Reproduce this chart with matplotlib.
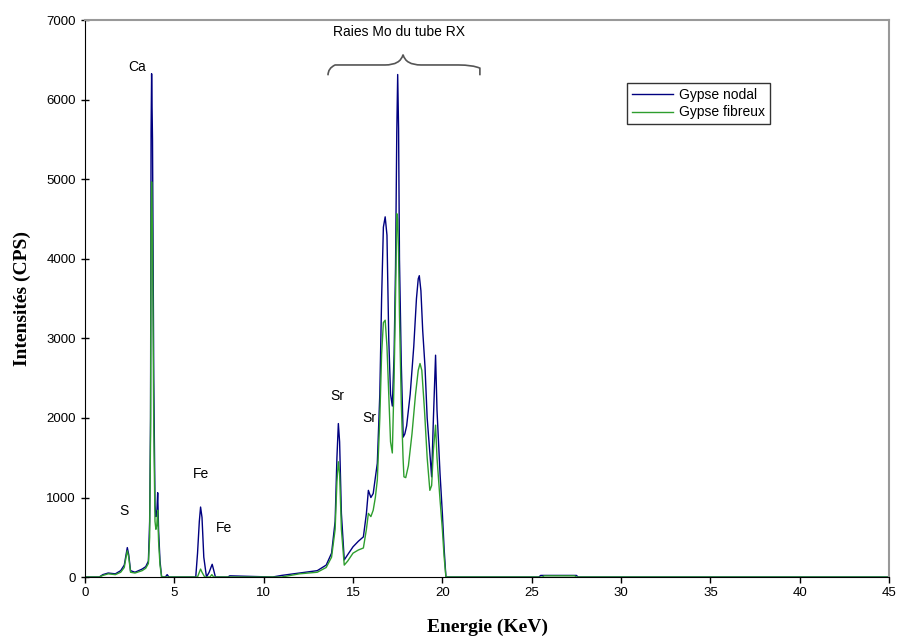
import matplotlib.pyplot as plt
from matplotlib.path import Path
from matplotlib.patches import PathPatch

# Gypse nodal (blue) spectrum: energy (keV) / intensity (CPS)
e_nodal = [0.0, 0.8, 1.0, 1.3, 1.7, 2.0, 2.2, 2.3, 2.37, 2.45, 2.55, 2.8, 3.2, 3.4,
           3.55, 3.62, 3.67, 3.7, 3.73, 3.78, 3.85, 3.92, 3.97, 4.02, 4.07, 4.12, 4.2,
           4.29, 4.5, 4.6, 4.7, 6.2, 6.3, 6.4, 6.47, 6.55, 6.65, 6.8, 6.95, 7.05, 7.12,
           7.2, 7.3, 8.0, 8.1, 10.5, 11.0, 12.0, 13.0, 13.5, 13.8, 14.0, 14.1, 14.18,
           14.25, 14.35, 14.51, 14.7, 15.0, 15.3, 15.58, 15.75, 15.86, 16.0, 16.13,
           16.25, 16.36, 16.5, 16.6, 16.7, 16.8, 16.9, 17.0, 17.1, 17.2, 17.3, 17.38,
           17.45, 17.5, 17.55, 17.6, 17.7, 17.81, 17.9, 18.0, 18.2, 18.4, 18.55, 18.65,
           18.71, 18.8, 18.9, 19.03, 19.15, 19.3, 19.4, 19.5, 19.62, 19.7, 19.87, 20.0,
           20.1, 20.2, 25.4, 25.5, 27.5, 27.6, 45.0]
i_nodal = [0, 0, 30, 50, 40, 80, 150, 280, 370, 280, 80, 60, 100, 130,
           200, 700, 2000, 5600, 6330, 5500, 2500, 900, 760, 800, 1060, 590, 200,
           0, 0, 30, 0, 0, 300, 700, 880, 750, 250, 0, 60, 120, 160,
           90, 0, 0, 15, 0, 20, 50, 80, 150, 300, 700, 1500, 1930,
           1700, 800, 215, 280, 380, 450, 505, 800, 1090, 1000, 1050,
           1250, 1430, 2300, 3500, 4400, 4530, 4300, 3000, 2300, 2150, 2800, 3900,
           5600, 6320, 5640, 4000, 2700, 1760, 1800, 1900, 2300, 2900, 3500, 3750,
           3790, 3600, 3100, 2640, 2000, 1560, 1260, 2000, 2790, 2100, 1300, 800,
           350, 0, 0, 20, 20, 0, 0]

# Gypse fibreux (green) spectrum
e_fibreux = [0.0, 0.8, 1.0, 1.3, 1.7, 2.0, 2.2, 2.3, 2.37, 2.45, 2.55, 2.8, 3.2, 3.4,
             3.55, 3.62, 3.67, 3.7, 3.73, 3.78, 3.85, 3.92, 3.97, 4.02, 4.07, 4.12, 4.2,
             4.29, 6.3, 6.4, 6.47, 6.55, 6.7, 7.0, 7.1, 7.2, 11.0, 12.0, 13.0, 13.5,
             13.8, 14.0, 14.1, 14.18, 14.25, 14.35, 14.51, 14.7, 15.0, 15.3, 15.58,
             15.75, 15.86, 16.0, 16.13, 16.25, 16.36, 16.5, 16.6, 16.7, 16.8, 16.9,
             17.0, 17.1, 17.2, 17.3, 17.4, 17.45, 17.5, 17.55, 17.6, 17.7, 17.8, 17.85,
             17.95, 18.1, 18.3, 18.5, 18.65, 18.75, 18.85, 19.0, 19.15, 19.3, 19.4,
             19.5, 19.62, 19.7, 19.87, 20.0, 20.1, 20.2, 25.6, 25.7, 27.4, 27.5, 45.0]
i_fibreux = [0, 0, 20, 40, 30, 60, 120, 250, 330, 250, 60, 50, 80, 110,
             170, 500, 1800, 4400, 4970, 4300, 1900, 700, 600, 650, 840, 450, 150,
             0, 0, 60, 100, 60, 0, 0, 30, 0, 0, 40, 60, 120,
             250, 600, 1200, 1450, 1300, 600, 150, 200, 300, 340, 365,
             600, 800, 760, 840, 1000, 1220, 2000, 2800, 3200, 3230, 2900,
             2300, 1700, 1560, 2500, 3800, 4570, 4500, 4070, 3300, 2200, 1500, 1260,
             1250, 1400, 1800, 2300, 2600, 2685, 2600, 2100, 1500, 1090, 1150,
             1600, 1910, 1500, 970, 600, 250, 0, 0, 15, 15, 0, 0]

labels = ['S', 'Ca', 'Fe', 'Fe', 'Sr', 'Sr']
label_e = [2.2, 2.9, 6.5, 7.8, 14.1, 15.9]
label_i = [740, 6330, 1205, 530, 2185, 1910]

plt.rcParams['font.family'] = ['Liberation Sans', 'DejaVu Sans']

fig = plt.figure(figsize=(8.99, 6.39), dpi=100)
ax = fig.add_axes([0.0945, 0.097, 0.8945, 0.871])

ax.plot(e_nodal, i_nodal, color='#000080', lw=1.0, label='Gypse nodal')
ax.plot(e_fibreux, i_fibreux, color='#2e9e2e', lw=1.0, label='Gypse fibreux')

ax.set_xlim(0, 45)
ax.set_ylim(0, 7000)
ax.set_xticks(range(0, 46, 5))
ax.set_yticks(range(0, 7001, 1000))
ax.tick_params(axis='both', labelsize=9.5, length=4, width=1)
ax.tick_params(axis='y', direction='inout', length=6)

for side in ['top', 'right']:
    ax.spines[side].set_color('#999999')
    ax.spines[side].set_linewidth(1.5)
for side in ['left', 'bottom']:
    ax.spines[side].set_color('black')

serif = ['Liberation Serif', 'DejaVu Serif']
ax.set_xlabel('Energie (KeV)', family=serif, fontweight='bold', fontsize=14, labelpad=14)
ax.set_ylabel('Intensités (CPS)', family=serif, fontweight='bold', fontsize=14, labelpad=11)

for t, x, y in zip(labels, label_e, label_i):
    ax.text(x, y, t, fontsize=10, ha='center', va='bottom')

ax.text(17.6, 6770, 'Raies Mo du tube RX', fontsize=10, ha='center', va='bottom')

# curly brace over the Mo lines
x0, xm, x1 = 13.6, 17.8, 22.1
yb, yt, yc = 6310, 6440, 6570
verts = [(x0, yb), (x0, yt - 40), (x0 + 0.4, yt), (x0 + 1.2, yt),
         (xm - 1.0, yt), (xm - 0.15, yt), (xm, yc),
         (xm + 0.15, yt), (xm + 1.0, yt),
         (x1 - 1.2, yt), (x1 - 0.4, yt), (x1, yt - 40), (x1, yb)]
codes = [Path.MOVETO, Path.CURVE3, Path.CURVE3, Path.LINETO,
         Path.LINETO, Path.CURVE3, Path.CURVE3,
         Path.CURVE3, Path.CURVE3,
         Path.LINETO, Path.CURVE3, Path.CURVE3, Path.LINETO]
ax.add_patch(PathPatch(Path(verts, codes), fill=False, color='#555555', lw=1.2))

leg = ax.legend(loc='upper left', bbox_to_anchor=(0.665, 0.9), fontsize=10,
                frameon=True, fancybox=False, edgecolor='black',
                handlelength=3, handletextpad=0.4, borderpad=0.35, labelspacing=0.25)
leg.get_frame().set_linewidth(1.0)

fig.savefig('out.png', dpi=100)
